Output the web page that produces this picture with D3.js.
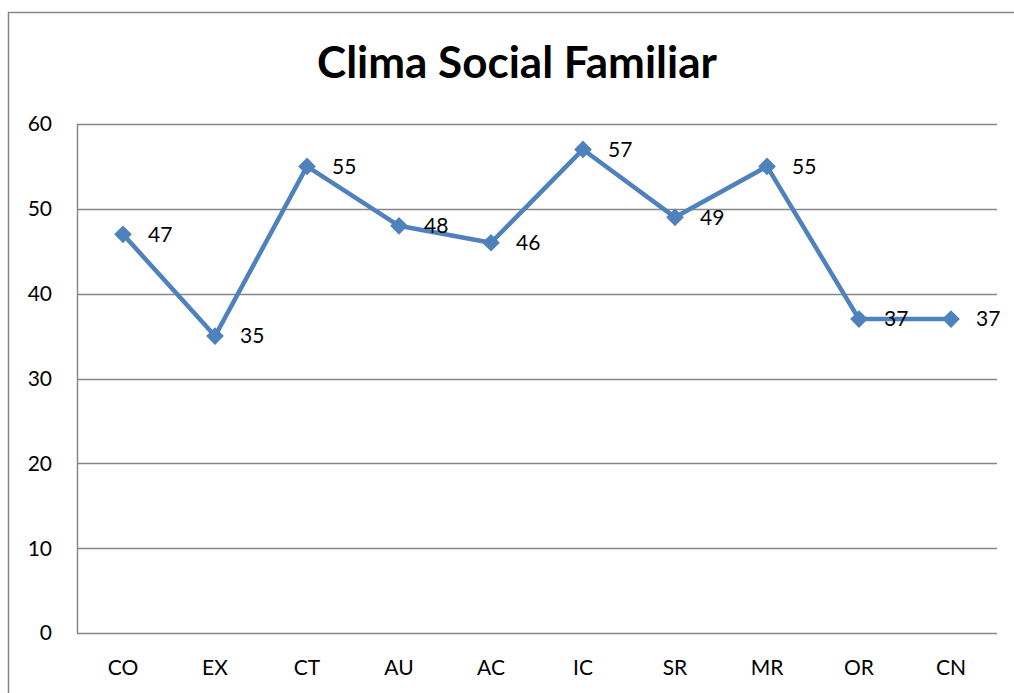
<!DOCTYPE html>
<html>
<head>
<meta charset="utf-8">
<script src="https://cdn.jsdelivr.net/npm/d3@7"></script>
<style>
  body { margin: 0; background: #fff; }
  text { font-family: Lato, "Open Sans", sans-serif; }
</style>
</head>
<body>
<script>
var categories = ['CO','EX','CT','AU','AC','IC','SR','MR','OR','CN'];
var values = [47, 35, 55, 48, 46, 57, 49, 55, 37, 37];
var yTicks = [0, 10, 20, 30, 40, 50, 60];
var title = 'Clima Social Familiar';

var width = 1014, height = 693;
var margin = {left: 77, right: 17, top: 124, bottom: 60};

var svg = d3.select("body").append("svg").attr("width", width).attr("height", height);

// outer chart border
svg.append("rect")
    .attr("x", 8.5).attr("y", 12.5)
    .attr("width", 1020).attr("height", 700)
    .attr("fill", "none").attr("stroke", "#868686").attr("stroke-width", 1.5);

var x = d3.scaleBand()
          .domain(categories)
          .range([margin.left, width - margin.right]);

var y = d3.scaleLinear()
          .domain([0, 60])
          .range([height - margin.bottom, margin.top]);

// gridlines
svg.append("g").selectAll("line")
    .data(yTicks)
    .enter().append("line")
    .attr("x1", margin.left).attr("x2", width - margin.right)
    .attr("y1", function(d){ return Math.round(y(d)) + 0.5; })
    .attr("y2", function(d){ return Math.round(y(d)) + 0.5; })
    .attr("stroke", "#868686").attr("stroke-width", 1.5);

// left axis line
svg.append("line")
    .attr("x1", margin.left + 0.5).attr("x2", margin.left + 0.5)
    .attr("y1", y(60)).attr("y2", y(0))
    .attr("stroke", "#868686").attr("stroke-width", 1.5);

// y tick labels
svg.append("g").selectAll("text")
    .data(yTicks)
    .enter().append("text")
    .attr("x", 52).attr("y", function(d){ return y(d); })
    .attr("dy", "0.35em")
    .attr("text-anchor", "end")
    .attr("font-size", 21)
    .text(function(d){ return d; });

// x tick labels
svg.append("g").selectAll("text")
    .data(categories)
    .enter().append("text")
    .attr("x", function(d){ return x(d) + x.bandwidth()/2; })
    .attr("y", 668)
    .attr("dy", "0.35em")
    .attr("text-anchor", "middle")
    .attr("font-size", 21)
    .text(function(d){ return d; });

var line = d3.line()
    .x(function(d, i){ return x(categories[i]) + x.bandwidth()/2; })
    .y(function(d){ return y(d); });

svg.append("path")
    .attr("d", line(values))
    .attr("fill", "none")
    .attr("stroke", "#4F81BD")
    .attr("stroke-width", 4.5)
    .attr("stroke-linejoin", "round");

var diamond = d3.symbol().type(d3.symbolDiamond2).size(200);
svg.append("g").selectAll("path")
    .data(values)
    .enter().append("path")
    .attr("d", diamond)
    .attr("transform", function(d, i){
        return "translate(" + (x(categories[i]) + x.bandwidth()/2) + "," + y(d) + ")";
    })
    .attr("fill", "#4F81BD");

// data labels
svg.append("g").selectAll("text")
    .data(values)
    .enter().append("text")
    .attr("x", function(d, i){ return x(categories[i]) + x.bandwidth()/2 + 25; })
    .attr("y", function(d){ return y(d); })
    .attr("dy", "0.35em")
    .attr("font-size", 21)
    .text(function(d){ return d; });

svg.append("text")
    .attr("x", 517).attr("y", 63)
    .attr("dy", "0.35em")
    .attr("text-anchor", "middle")
    .attr("font-size", 44)
    .attr("font-weight", "bold")
    .text(title);
</script>
</body>
</html>
